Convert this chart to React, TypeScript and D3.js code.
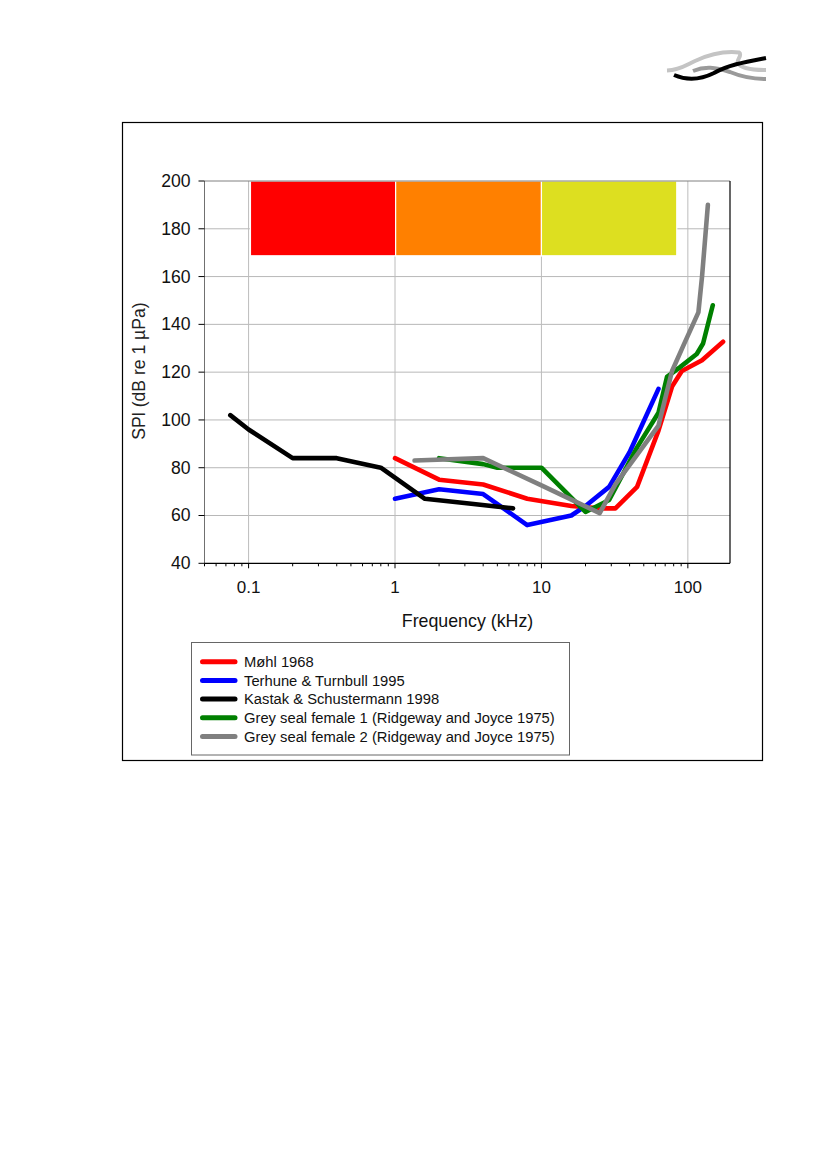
import * as d3 from "d3";

type Pt = [number, number];

const yTicks = [40, 60, 80, 100, 120, 140, 160, 180, 200];
const xLabels = [0.1, 1, 10, 100];

const mohl: Pt[] = [[1, 84], [2, 75], [4, 73], [8, 67], [16, 64], [25, 63], [32, 63], [45, 72], [63, 95.5], [78, 114], [91, 120.5], [125, 125], [174, 132.7]];
const terhune: Pt[] = [[1, 67], [2, 71], [4, 69], [8, 56], [16, 60], [20, 64], [29, 72], [40, 86.5], [63, 113]];
const kastak: Pt[] = [[0.075, 102], [0.1, 96], [0.2, 84], [0.4, 84], [0.8, 80], [1.6, 67], [3.2, 65], [6.4, 63]];
const female1: Pt[] = [[2, 84], [4, 81.5], [5, 80], [10, 80], [20, 61.5], [29, 66.5], [45, 88.5], [63, 103], [72, 118], [88, 122], [115, 127.6], [127, 132], [148, 148]];
const female2: Pt[] = [[1.36, 83], [4, 84], [10, 72.6], [25, 61], [32, 73], [63, 97.6], [78, 120.5], [93, 131], [118, 145], [125, 160], [137, 190]];

const seriesNames = ["Møhl 1968", "Terhune & Turnbull 1995", "Kastak & Schustermann 1998", "Grey seal female 1 (Ridgeway and Joyce 1975)", "Grey seal female 2 (Ridgeway and Joyce 1975)"];
const seriesValues = [mohl, terhune, kastak, female1, female2];
const seriesColors = ["#ff0000", "#0000ff", "#000000", "#008000", "#808080"];

const bandEdges = [0.103, 1.01, 10, 84];
const bandColors = ["#ff0000", "#ff8000", "#dddf20"];
const bandFloor = 168.7;

const FONT = "'Liberation Sans', Arial, sans-serif";

export default function App() {
  const margin = { top: 181, left: 204.5, right: 97, bottom: 606.7 };
  const width = 827;
  const height = 1170;

  const x = d3.scaleLog().domain([0.05, 194]).range([margin.left, width - margin.right]);
  const y = d3.scaleLinear().domain([40, 200]).range([height - margin.bottom, margin.top]);

  const line = d3.line<Pt>().x((d) => x(d[0])).y((d) => y(d[1]));
  const allTicks = x.ticks();
  const x0 = margin.left;
  const x1 = width - margin.right;
  const y0 = height - margin.bottom;
  const y1 = margin.top;

  return (
    <svg width={width} height={height} viewBox={`0 0 ${width} ${height}`} style={{ position: "absolute", left: 0, top: 0, display: "block" }} fontFamily={FONT}>
      <rect width={width} height={height} fill="#fff" />

      {/* logo */}
      <g fill="none" strokeLinecap="butt">
        <path d="M667 70.5 C680 70 686 65 695 61 C708 55 725 51 739 52.5 C743 55 736 60 738 63 C741 69 755 70 766 70" stroke="#c4c4c4" strokeWidth="4" />
        <path d="M693 71 C705 66 715 67 730 72 C742 77 752 79 766 79" stroke="#9a9a9a" strokeWidth="4" />
        <path d="M674 75 C688 81 702 79 714 73 C728 65 745 62 766 58" stroke="#000" strokeWidth="4" />
      </g>

      <rect x={122.5} y={122.5} width={640} height={638} fill="none" stroke="#000" strokeWidth={1.2} />

      {/* grid */}
      {yTicks.slice(1, -1).map((t) => (
        <line key={t} x1={x0} x2={x1} y1={y(t)} y2={y(t)} stroke="#b8b8b8" strokeWidth={1} />
      ))}
      {xLabels.map((t) => (
        <line key={t} x1={x(t)} x2={x(t)} y1={y0} y2={y1} stroke="#bcbcbc" strokeWidth={1} />
      ))}

      {/* bands */}
      {bandColors.map((c, i) => (
        <rect
          key={c}
          x={x(bandEdges[i])}
          y={y(200)}
          width={x(bandEdges[i + 1]) - x(bandEdges[i])}
          height={y(bandFloor) - y(200)}
          fill={c}
          stroke="#fff"
          strokeWidth={1.2}
        />
      ))}

      {/* axes */}
      <line x1={x0} x2={x1} y1={y1} y2={y1} stroke="#808080" strokeWidth={1} />
      <line x1={x0} x2={x0} y1={y1} y2={y0} stroke="#707070" strokeWidth={1} />
      <line x1={x1} x2={x1} y1={y1} y2={y0} stroke="#000" strokeWidth={1.2} />
      <line x1={x0} x2={x1} y1={y0} y2={y0} stroke="#000" strokeWidth={1.2} />
      {yTicks.map((t) => (
        <g key={t}>
          <line x1={x0 - 6} x2={x0} y1={y(t)} y2={y(t)} stroke="#000" strokeWidth={1} />
          <text x={x0 - 14} y={y(t)} dy="0.34em" textAnchor="end" fontSize={17.6} fill="#111">{t}</text>
        </g>
      ))}
      {allTicks.map((t) => {
        const major = xLabels.includes(+t.toPrecision(3));
        return <line key={t} x1={x(t)} x2={x(t)} y1={y0} y2={y0 + (major ? 5 : 3)} stroke="#000" strokeWidth={1} />;
      })}
      {xLabels.map((t) => (
        <text key={t} x={x(t)} y={y0 + 30} textAnchor="middle" fontSize={17} fill="#111">{t}</text>
      ))}
      <text x={467.5} y={626.5} textAnchor="middle" fontSize={17.8} fill="#111">Frequency (kHz)</text>
      <text transform="translate(144.5,371) rotate(-90)" textAnchor="middle" fontSize={17.6} fill="#222">SPl (dB re 1 µPa)</text>

      {/* series */}
      {seriesValues.map((s, i) => (
        <path key={seriesNames[i]} d={line(s) ?? ""} fill="none" stroke={seriesColors[i]} strokeWidth={4.6} strokeLinejoin="round" strokeLinecap="round" />
      ))}

      {/* legend */}
      <rect x={191.5} y={642.5} width={378} height={112.5} fill="#fff" stroke="#666" strokeWidth={1} />
      {seriesNames.map((n, i) => {
        const ly = 661.7 + i * 18.7;
        return (
          <g key={n}>
            <line x1={202.5} x2={235} y1={ly} y2={ly} stroke={seriesColors[i]} strokeWidth={5} strokeLinecap="round" />
            <text x={244} y={ly} dy="0.36em" fontSize={14.75} fill="#111">{n}</text>
          </g>
        );
      })}
    </svg>
  );
}
